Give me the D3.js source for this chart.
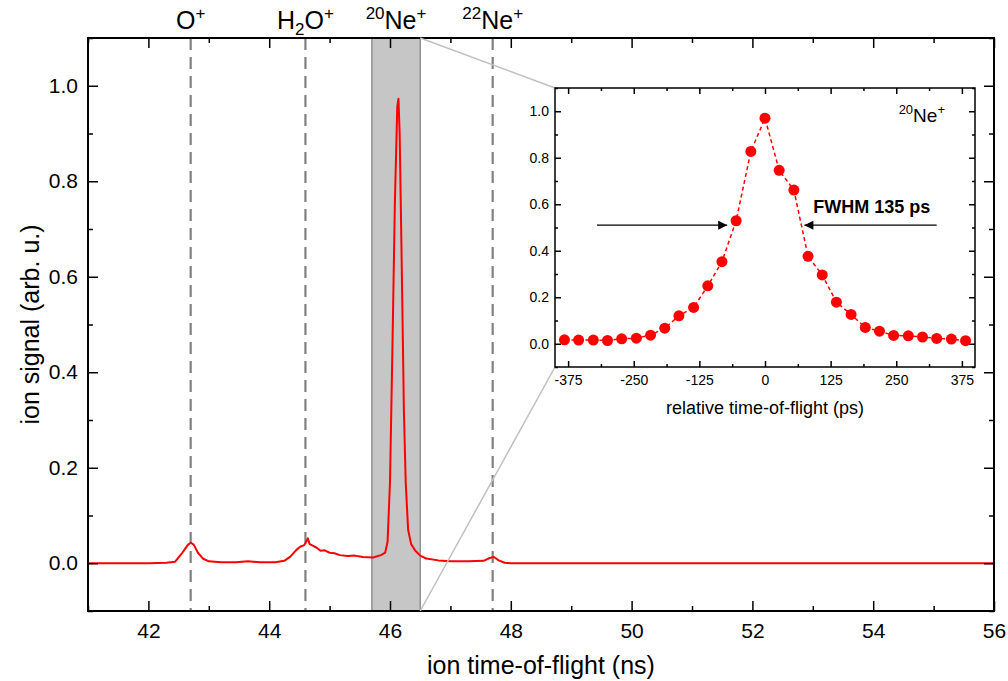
<!DOCTYPE html>
<html>
<head>
<meta charset="utf-8">
<script src="https://cdn.jsdelivr.net/npm/d3@7"></script>
<style>
  body { margin: 0; background: #fff; }
  text { font-family: "Liberation Sans", Arial, sans-serif; fill: #000; }
</style>
</head>
<body>
<div id="chart"></div>
<script>
var svgWidth = 1008;
var svgHeight = 681;

// main spectrum
var tofNs = [41.0, 42.0, 42.3, 42.44, 42.55, 42.65, 42.7, 42.75, 42.82, 42.9, 43.0, 43.2, 43.45, 43.65, 43.85, 44.1,
  44.25, 44.35, 44.45, 44.52, 44.58, 44.64, 44.67, 44.72, 44.78, 44.85, 44.92, 45.0, 45.08, 45.17, 45.3, 45.42, 45.55,
  45.72, 45.85, 45.92, 45.96, 46.0, 46.04, 46.08, 46.12, 46.14, 46.16, 46.19, 46.23, 46.26, 46.3, 46.35, 46.42, 46.5,
  46.6, 46.8, 47.0, 47.3, 47.55, 47.65, 47.72, 47.8, 47.9, 48.0, 56.0];
var signal = [0.0, 0.0, 0.001, 0.003, 0.02, 0.038, 0.043, 0.039, 0.022, 0.01, 0.004, 0.002, 0.002, 0.004, 0.002, 0.002,
  0.005, 0.014, 0.028, 0.035, 0.038, 0.052, 0.04, 0.037, 0.033, 0.026, 0.027, 0.022, 0.021, 0.017, 0.015, 0.016, 0.013,
  0.012, 0.017, 0.022, 0.045, 0.17, 0.45, 0.75, 0.955, 0.973, 0.9, 0.66, 0.32, 0.17, 0.07, 0.04, 0.026, 0.016,
  0.01, 0.006, 0.004, 0.004, 0.005, 0.011, 0.013, 0.006, 0.001, 0.0, 0.0];

// inset: 20Ne+ peak
var relTof = [-382, -355, -327, -300, -273, -245, -218, -191, -164, -136, -109, -82, -55, -27, 0,
  27, 55, 82, 109, 136, 164, 191, 218, 245, 273, 300, 327, 355, 382];
var relSignal = [0.017, 0.016, 0.016, 0.014, 0.021, 0.024, 0.037, 0.067, 0.12, 0.156, 0.249, 0.353, 0.529, 0.827, 0.97,
  0.746, 0.661, 0.376, 0.296, 0.179, 0.126, 0.07, 0.054, 0.036, 0.034, 0.029, 0.023, 0.02, 0.013];

var peakLines = [42.7, 44.6, 47.7];
var peakLabels = [
  { t: 42.7, parts: [["O", 0], ["+", 1]] },
  { t: 44.6, parts: [["H", 0], ["2", -1], ["O", 0], ["+", 1]] },
  { t: 46.1, parts: [["20", 1], ["Ne", 0], ["+", 1]] },
  { t: 47.7, parts: [["22", 1], ["Ne", 0], ["+", 1]] }
];
var zoomBand = [45.7, 46.5];

var xTicksMain = [42, 44, 46, 48, 50, 52, 54, 56];
var yTicksMain = [0.0, 0.2, 0.4, 0.6, 0.8, 1.0];
var xTicksInset = [-375, -250, -125, 0, 125, 250, 375];
var yTicksInset = [0.0, 0.2, 0.4, 0.6, 0.8, 1.0];

var fwhmY = 0.51;
var fwhmLeft = [-320, -72];
var fwhmRight = [327, 75];

var margin = { top: 38, right: 14, bottom: 70, left: 88 };
var width = svgWidth - margin.left - margin.right;
var height = svgHeight - margin.top - margin.bottom;

var svg = d3.select("#chart")
  .append("svg")
  .attr("width", svgWidth)
  .attr("height", svgHeight);

var defs = svg.append("defs");
defs.append("marker")
  .attr("id", "arrow")
  .attr("viewBox", "0 0 10 10")
  .attr("refX", 10).attr("refY", 5)
  .attr("markerWidth", 12).attr("markerHeight", 9)
  .attr("markerUnits", "userSpaceOnUse")
  .attr("orient", "auto")
  .append("path")
  .attr("d", "M0,0 L10,5 L0,10 Z")
  .attr("fill", "#000");

var chartGroup = svg.append("g").attr("transform", `translate(${margin.left},${margin.top})`);

var xScale = d3.scaleLinear().domain([41, 56]).range([0, width]);
var yScale = d3.scaleLinear().domain([-0.1, 1.1]).range([height, 0]);

var minorX = d3.range(41, 56.01, 1).filter(d => d % 2 !== 0);
var minorY = [-0.1, 0.1, 0.3, 0.5, 0.7, 0.9, 1.1];

// zoom band
chartGroup.append("rect")
  .attr("x", xScale(zoomBand[0]))
  .attr("y", 0)
  .attr("width", xScale(zoomBand[1]) - xScale(zoomBand[0]))
  .attr("height", height)
  .attr("fill", "#c6c6c6")
  .attr("stroke", "#6a6a6a")
  .attr("stroke-width", 1);

// dashed peak markers
chartGroup.selectAll(".peakline")
  .data(peakLines)
  .enter()
  .append("line")
  .attr("x1", d => xScale(d)).attr("x2", d => xScale(d))
  .attr("y1", 0).attr("y2", height)
  .attr("stroke", "#808080")
  .attr("stroke-width", 2.2)
  .attr("stroke-dasharray", "12,7");

// spectrum
var line = d3.line()
  .x((d, i) => xScale(tofNs[i]))
  .y(d => yScale(d));

chartGroup.append("path")
  .datum(signal)
  .attr("d", line)
  .attr("fill", "none")
  .attr("stroke", "#ff0000")
  .attr("stroke-width", 2)
  .attr("stroke-linejoin", "round");

// axes with inward ticks
function addAxes(g, xs, ys, w, h, xMaj, xMin, yMaj, yMin, tickLen, fontSize, xPad, yPad) {
  var bottom = g.append("g").attr("transform", `translate(0,${h})`)
    .call(d3.axisBottom(xs).tickValues(xMaj).tickSize(-tickLen).tickPadding(xPad).tickFormat(d3.format("d")));
  g.append("g").attr("transform", `translate(0,${h})`)
    .call(d3.axisBottom(xs).tickValues(xMin).tickSize(-tickLen / 2).tickFormat(""));
  g.append("g").call(d3.axisTop(xs).tickValues(xMaj).tickSize(-tickLen).tickFormat(""));
  g.append("g").call(d3.axisTop(xs).tickValues(xMin).tickSize(-tickLen / 2).tickFormat(""));

  var left = g.append("g")
    .call(d3.axisLeft(ys).tickValues(yMaj).tickSize(-tickLen).tickPadding(yPad).tickFormat(d3.format(".1f")));
  g.append("g").call(d3.axisLeft(ys).tickValues(yMin).tickSize(-tickLen / 2).tickFormat(""));
  g.append("g").attr("transform", `translate(${w},0)`)
    .call(d3.axisRight(ys).tickValues(yMaj).tickSize(-tickLen).tickFormat(""));
  g.append("g").attr("transform", `translate(${w},0)`)
    .call(d3.axisRight(ys).tickValues(yMin).tickSize(-tickLen / 2).tickFormat(""));

  g.selectAll(".domain").remove();
  g.selectAll(".tick line").attr("stroke", "#000").attr("stroke-width", 1.5);
  g.selectAll(".tick text").style("font-size", fontSize + "px").style("font-family", "Liberation Sans, Arial, sans-serif");
  bottom.selectAll(".tick text").text(d => d < 0 ? "-" + Math.abs(d) : d);
  left.selectAll(".tick text").text(d => d3.format(".1f")(d));

  g.append("rect")
    .attr("width", w).attr("height", h)
    .attr("fill", "none")
    .attr("stroke", "#000")
    .attr("stroke-width", 2);
}

addAxes(chartGroup, xScale, yScale, width, height, xTicksMain, minorX, yTicksMain, minorY, 10, 21, 12, 10);

// peak labels above the frame
peakLabels.forEach(function(p) {
  var t = chartGroup.append("text")
    .attr("x", xScale(p.t))
    .attr("y", -9)
    .attr("text-anchor", "middle")
    .style("font-size", "25px");
  var shift = 0;
  p.parts.forEach(function(part) {
    var target = part[1] === 1 ? -10 : (part[1] === -1 ? 6 : 0);
    t.append("tspan")
      .attr("dy", target - shift)
      .style("font-size", part[1] === 0 ? "25px" : "17px")
      .text(part[0]);
    shift = target;
  });
});

// axis titles
chartGroup.append("text")
  .attr("x", width / 2)
  .attr("y", height + 63)
  .attr("text-anchor", "middle")
  .style("font-size", "25px")
  .text("ion time-of-flight (ns)");

chartGroup.append("text")
  .attr("transform", "rotate(-90)")
  .attr("x", -yScale(0.5))
  .attr("y", -margin.left + 39)
  .attr("text-anchor", "middle")
  .style("font-size", "25px")
  .text("ion signal (arb. u.)");

// inset
var inset = { left: 555, top: 88, width: 420, height: 279 };

var bandCornerTop = [margin.left + xScale(zoomBand[1]), margin.top];
var bandCornerBottom = [margin.left + xScale(zoomBand[1]), margin.top + height];

svg.append("line")
  .attr("x1", bandCornerTop[0]).attr("y1", bandCornerTop[1])
  .attr("x2", inset.left).attr("y2", inset.top)
  .attr("stroke", "#c0c0c0").attr("stroke-width", 1.5);
svg.append("line")
  .attr("x1", bandCornerBottom[0]).attr("y1", bandCornerBottom[1])
  .attr("x2", inset.left).attr("y2", inset.top + inset.height)
  .attr("stroke", "#c0c0c0").attr("stroke-width", 1.5);

var insetGroup = svg.append("g").attr("transform", `translate(${inset.left},${inset.top})`);

var xInset = d3.scaleLinear().domain([-400, 400]).range([0, inset.width]);
var yInset = d3.scaleLinear().domain([-0.1, 1.1]).range([inset.height, 0]);

var minorXInset = [-312.5, -187.5, -62.5, 62.5, 187.5, 312.5];

addAxes(insetGroup, xInset, yInset, inset.width, inset.height, xTicksInset, minorXInset, yTicksInset, minorY, 6, 14, 8, 6);
insetGroup.selectAll("rect").attr("stroke-width", 1.5);

var insetLine = d3.line()
  .x((d, i) => xInset(relTof[i]))
  .y(d => yInset(d));

insetGroup.append("path")
  .datum(relSignal)
  .attr("d", insetLine)
  .attr("fill", "none")
  .attr("stroke", "#ff0000")
  .attr("stroke-width", 1.5)
  .attr("stroke-dasharray", "4,3");

insetGroup.selectAll(".pt")
  .data(relSignal)
  .enter()
  .append("circle")
  .attr("cx", (d, i) => xInset(relTof[i]))
  .attr("cy", d => yInset(d))
  .attr("r", 5.5)
  .attr("fill", "#ff0000");

// FWHM arrows
insetGroup.append("line")
  .attr("x1", xInset(fwhmLeft[0])).attr("x2", xInset(fwhmLeft[1]))
  .attr("y1", yInset(fwhmY)).attr("y2", yInset(fwhmY))
  .attr("stroke", "#000").attr("stroke-width", 1.2)
  .attr("marker-end", "url(#arrow)");
insetGroup.append("line")
  .attr("x1", xInset(fwhmRight[0])).attr("x2", xInset(fwhmRight[1]))
  .attr("y1", yInset(fwhmY)).attr("y2", yInset(fwhmY))
  .attr("stroke", "#000").attr("stroke-width", 1.2)
  .attr("marker-end", "url(#arrow)");

insetGroup.append("text")
  .attr("x", xInset(92))
  .attr("y", yInset(0.563))
  .style("font-size", "18px")
  .style("font-weight", "bold")
  .text("FWHM 135 ps");

var neLabel = insetGroup.append("text")
  .attr("x", inset.width - 30)
  .attr("y", 34)
  .attr("text-anchor", "end")
  .style("font-size", "19px");
neLabel.append("tspan").attr("dy", -8).style("font-size", "13px").text("20");
neLabel.append("tspan").attr("dy", 8).text("Ne");
neLabel.append("tspan").attr("dy", -8).style("font-size", "13px").text("+");

insetGroup.append("text")
  .attr("x", inset.width / 2)
  .attr("y", inset.height + 47)
  .attr("text-anchor", "middle")
  .style("font-size", "18px")
  .text("relative time-of-flight (ps)");
</script>
</body>
</html>
